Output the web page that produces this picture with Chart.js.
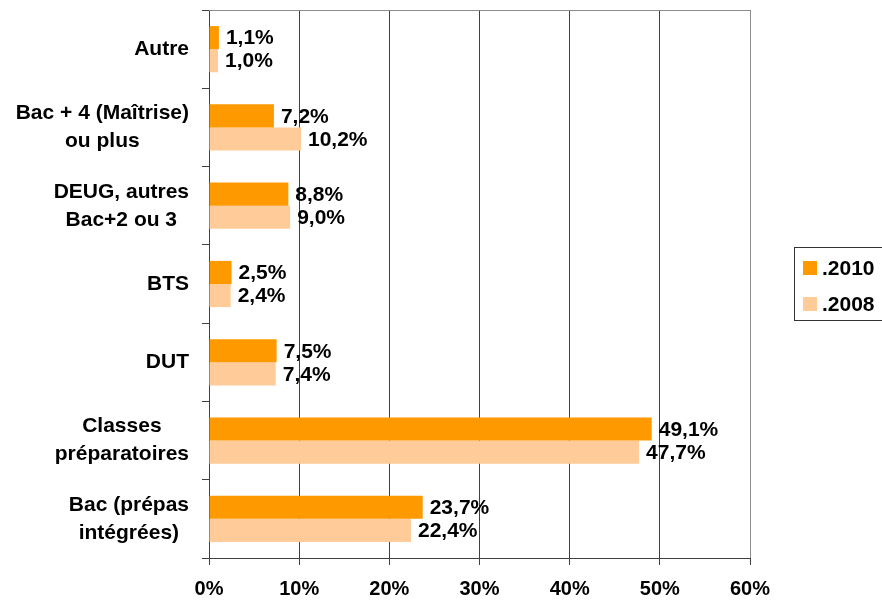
<!DOCTYPE html>
<html>
<head>
<meta charset="utf-8">
<script src="https://cdn.jsdelivr.net/npm/chart.js@4"></script>
<style>
body { margin: 0; background: #fff; }
#cadre { width: 882px; height: 600px; }
</style>
</head>
<body>
<div id="cadre"><canvas id="graphique"></canvas></div>
<script>
// Catégories, de haut en bas (une ligne par élément)
const categories = [
    ['Autre'],
    ['Bac + 4 (Maîtrise)', 'ou plus'],
    ['DEUG, autres', 'Bac+2 ou 3'],
    ['BTS'],
    ['DUT'],
    ['Classes', 'préparatoires'],
    ['Bac (prépas', 'intégrées)']
];
const series = ['.2010', '.2008'];
const valeurs2010 = [1.1, 7.2, 8.8, 2.5, 7.5, 49.1, 23.7];
const valeurs2008 = [1.0, 10.2, 9.0, 2.4, 7.4, 47.7, 22.4];
const graduations = [0, 10, 20, 30, 40, 50, 60];

const couleurs = ['#FF9900', '#FFCC99'];
const police = '"Liberation Sans", Arial, sans-serif';

// Textes dessinés à la main : étiquettes, valeurs, légende encadrée
const dessinTextes = {
    id: 'dessinTextes',
    afterDatasetsDraw(chart) {
        const ctx = chart.ctx;
        const zone = chart.chartArea;
        ctx.save();

        // bord haut et droit du cadre
        ctx.strokeStyle = '#8c8c8c';
        ctx.lineWidth = 1;
        ctx.beginPath();
        ctx.moveTo(zone.left, zone.top + 0.5);
        ctx.lineTo(zone.right + 0.5, zone.top + 0.5);
        ctx.stroke();

        // étiquettes des catégories (lignes centrées, bloc aligné à droite)
        ctx.fillStyle = '#000';
        ctx.font = 'bold 21px ' + police;
        ctx.textBaseline = 'middle';
        ctx.textAlign = 'center';
        const echelleY = chart.scales.y;
        categories.forEach((lignes, i) => {
            const yc = echelleY.getPixelForValue(i);
            const largeur = Math.max(...lignes.map(l => ctx.measureText(l).width));
            const xc = zone.left - 20 - largeur / 2;
            lignes.forEach((l, j) => {
                ctx.fillText(l, xc, yc + (j - (lignes.length - 1) / 2) * 28);
            });
        });

        // valeurs au bout des barres
        ctx.textAlign = 'left';
        chart.data.datasets.forEach((ds, d) => {
            chart.getDatasetMeta(d).data.forEach((barre, i) => {
                const texte = ds.data[i].toFixed(1).replace('.', ',') + '%';
                ctx.fillText(texte, barre.x + 7, barre.y + 1);
            });
        });

        // légende
        ctx.strokeStyle = '#333';
        ctx.strokeRect(794.5, 247.5, 100, 73);
        series.forEach((nom, i) => {
            const y = 268 + i * 36;
            ctx.fillStyle = couleurs[i];
            ctx.fillRect(803, y - 7, 14, 14);
            ctx.fillStyle = '#000';
            ctx.fillText(nom, 822, y + 1);
        });

        ctx.restore();
    }
};

new Chart(document.getElementById('graphique').getContext('2d'), {
    type: 'bar',
    data: {
        labels: categories,
        datasets: [{
            label: series[0],
            data: valeurs2010,
            backgroundColor: couleurs[0],
            borderWidth: 0
        }, {
            label: series[1],
            data: valeurs2008,
            backgroundColor: couleurs[1],
            borderWidth: 0
        }]
    },
    options: {
        indexAxis: 'y',
        responsive: true,
        maintainAspectRatio: false,
        animation: false,
        categoryPercentage: 0.59,
        barPercentage: 1.0,
        layout: { padding: { top: 10, right: 132, left: 0, bottom: 0 } },
        plugins: {
            legend: { display: false },
            tooltip: { enabled: false }
        },
        scales: {
            x: {
                min: graduations[0],
                max: graduations[graduations.length - 1],
                afterFit: s => { s.height = 42; },
                ticks: {
                    stepSize: graduations[1] - graduations[0],
                    callback: v => v + '%',
                    color: '#000',
                    padding: 12,
                    font: { family: police, size: 20, weight: 'bold' }
                },
                grid: {
                    color: c => (c.tick && c.tick.value === graduations[graduations.length - 1]) ? '#8c8c8c' : '#404040',
                    tickColor: '#404040',
                    tickLength: 7
                },
                border: { color: '#404040' }
            },
            y: {
                afterFit: s => { s.width = 209; },
                ticks: { display: false },
                grid: {
                    drawOnChartArea: false,
                    color: '#404040',
                    tickLength: 7
                },
                border: { color: '#404040' }
            }
        }
    },
    plugins: [dessinTextes]
});
</script>
</body>
</html>
